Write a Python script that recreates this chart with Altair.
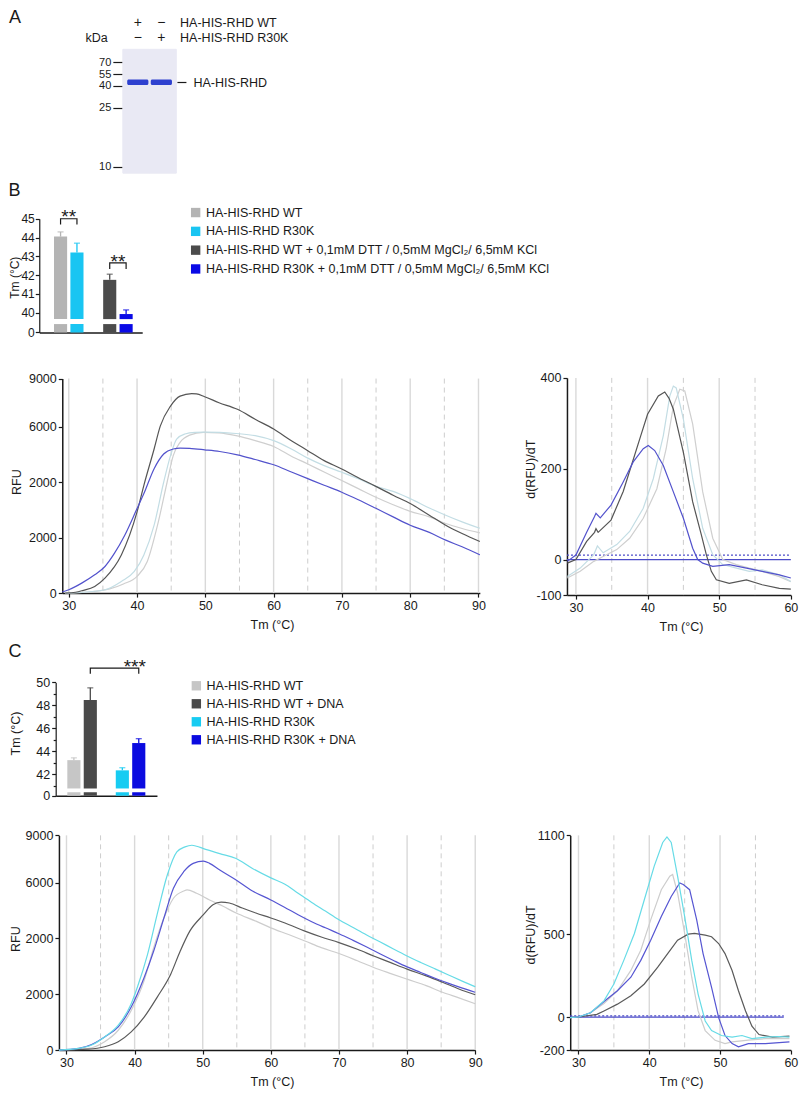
import altair as alt
import pandas as pd

W, H = 791, 1081
FONT = "Liberation Sans"
INK = "#1a1a1a"
SX = 791 / 804.5
SY = 1081 / 1091


def X(v):
    return (v - 1.5) * SX


def Y(v):
    return (v - 5) * SY


# ---------------- Panel A: gel ----------------
A_LANES = ["WT", "R30K"]
A_ROWS = ["HA-HIS-RHD WT", "HA-HIS-RHD R30K"]
A_SIGNS = [["+", "−"], ["−", "+"]]
A_KDA_TICKS = [70, 55, 40, 25, 10]
A_GEL_KDA = [8.3, 87]
A_BAND_KDA = [40.8, 47.8]
A_BAND_NAME = "HA-HIS-RHD"
A_BAND_MARK_KDA = 44.3

# ---------------- Panel B: bars ----------------
B_CONDS = [
    "HA-HIS-RHD WT",
    "HA-HIS-RHD R30K",
    "HA-HIS-RHD WT + 0,1mM DTT / 0,5mM MgCl₂/ 6,5mM KCl",
    "HA-HIS-RHD R30K + 0,1mM DTT / 0,5mM MgCl₂/ 6,5mM KCl",
]
B_GROUP = ["g1", "g1", "g2", "g2"]
B_SLOT = ["1", "2", "1", "2"]
B_TM = [44.05, 43.2, 41.75, 39.93]
B_SEM = [0.25, 0.5, 0.3, 0.22]
B_COLORS = ["#b4b4b4", "#19c5f2", "#4b4b4b", "#0a0ae6"]
B_BREAK = [1, 39.66]
B_YMAX = 45
B_TICKS = [0, 40, 41, 42, 43, 44, 45]
# (group, slot_from, group_to, slot_to, level, leg_end, text, text_y)
B_SIGS = [("g1", "1", "g1", "2", 45.0, 44.7, "**", 44.75),
          ("g2", "1", "g2", "2", 42.65, 42.33, "**", 42.37)]

# ---------------- Panel C: bars ----------------
C_CONDS = ["HA-HIS-RHD WT", "HA-HIS-RHD WT + DNA", "HA-HIS-RHD R30K", "HA-HIS-RHD R30K + DNA"]
C_GROUP = ["g1", "g1", "g2", "g2"]
C_SLOT = ["1", "2", "1", "2"]
C_TM = [43.23, 48.47, 42.34, 44.72]
C_SEM = [0.2, 1.06, 0.23, 0.38]
C_COLORS = ["#c6c6c6", "#4a4a4a", "#17ccf2", "#0b0be0"]
C_BREAK = [1, 40.76]
C_YMAX = 50
C_TICKS = [0, 42, 44, 46, 48, 50]
C_MINOR = [41, 43, 45, 47, 49]
C_SIGS = [("g1", "2", "g2", "2", 51.25, 50.76, "***", 50.84)]

# ---------------- RFU curves, panel B ----------------
RFU_TICKS = [0, 2000, 4000, 6000, 9000]
RFU_LABELS = ["0", "2000", "2000", "6000", "9000"]
T_TICKS_LONG = [30, 40, 50, 60, 70, 80, 90]
T_TICKS_SHORT = [30, 40, 50, 60]
GRID_SOLID_LONG = [30, 40, 50, 60, 70, 80, 90]
GRID_DASH_LONG = [35, 45, 55, 65, 75, 85]
GRID_SOLID_SHORT = [30, 40, 50]
GRID_DASH_SHORT = [35, 45, 55]

LB_WT_T = [29.5, 33, 36, 38, 40, 41.5, 43, 44.4, 45.3, 46.3, 47.7, 49.7, 52, 54.5, 57.3, 60, 62.6, 65, 67.4,
           69.9, 72.4, 74.9, 77.5, 80, 82.8, 85.2, 87.6, 90.2]
LB_WT_RFU = [0, 40, 150, 330, 600, 1140, 2450, 4000, 4960, 5440, 5700, 5800, 5780, 5680, 5500, 5290, 4940,
             4660, 4370, 4070, 3770, 3470, 3190, 2950, 2750, 2510, 2330, 2170]
LB_R30K_T = [29.5, 32, 35.3, 37.7, 39.6, 41, 42.5, 43.9, 44.9, 45.8, 47, 48.5, 49.9, 52.1, 54.5, 57.3, 60, 62.6,
             65, 67.4, 69.9, 72.4, 74.9, 77.5, 80, 82.8, 85.2, 87.6, 90.2]
LB_R30K_RFU = [0, 30, 120, 420, 780, 1375, 2450, 4000, 4960, 5560, 5740, 5800, 5810, 5800, 5760, 5680, 5500,
               5200, 4870, 4600, 4370, 4130, 3860, 3670, 3410, 3070, 2810, 2570, 2340]
LB_WTDTT_T = [29.5, 31, 32, 33.8, 35.3, 37.7, 40, 41, 42.5, 43.4, 44.9, 46.3, 48, 48.7, 49.9, 52, 54.7, 57.3,
              60, 62.6, 65, 67.4, 69.9, 72.2, 74.9, 77.5, 80, 82.8, 85.2, 87.6, 90.2]
LB_WTDTT_RFU = [0, 30, 90, 240, 540, 1375, 2930, 3890, 5200, 6040, 7290, 7910, 8070, 8050, 7870, 7500, 7090,
                6470, 5920, 5500, 5140, 4780, 4490, 4190, 3860, 3530, 3230, 2810, 2450, 2150, 1860]
LB_R30KDTT_T = [29.05, 30, 31.9, 33.8, 35.3, 36.7, 38.2, 40, 41, 42.5, 43.9, 45.3, 46.3, 47.7, 49.9, 52.1, 54.7,
                57.3, 60, 62.6, 65, 67.4, 69.9, 72.4, 74.9, 77.5, 80, 82.8, 85.2, 87.6, 90.2]
LB_R30KDTT_RFU = [40, 120, 360, 660, 960, 1440, 2090, 3050, 3590, 4490, 5020, 5200, 5230, 5220, 5170, 5110,
                  4990, 4820, 4630, 4370, 4130, 3890, 3650, 3370, 3070, 2750, 2450, 2190, 1910, 1670, 1380]

# ---------------- derivative curves, panel B ----------------
DB_TICKS = [-100, 0, 200, 400]
DB_LABELS = ["-100", "0", "200", "400"]
DB_REF = [0, 10]
DB_WT_T = [28.8, 30.6, 32.5, 33.8, 35.7, 37.5, 39.4, 41.3, 42.6, 43.6, 44.5, 45.2, 46.3, 47.7, 49.1, 50.5, 52.4,
           54.2, 56, 58.4, 60]
DB_WT_D = [-52, -33, -5, 7, 22, 47, 91, 156, 244, 338, 375, 371, 298, 149, 47, 0, -14, -24, -33, -48, -62]
DB_R30K_T = [28.8, 30.6, 32.5, 33, 33.8, 35.7, 37.5, 39.4, 40.8, 42.2, 43.1, 43.6, 44, 45, 46.3, 47.7, 49.1,
             50.5, 52.4, 54.2, 56, 58.4, 60]
DB_R30K_D = [-48, -24, 11, 30, 15, 33, 62, 113, 178, 273, 360, 382, 378, 309, 178, 69, 11, -14, -24, -33, -29,
             -43, -62]
DB_WTDTT_T = [28.8, 30, 31.5, 32.6, 32.8, 33.1, 34.9, 36.6, 37.5, 39, 40, 41.5, 42.4, 43, 43.6, 45, 46.3, 47.5,
              48.2, 48.9, 49.6, 51.4, 53.8, 56, 58.4, 60]
DB_WTDTT_D = [-10, 0, 40, 60, 68, 60, 87, 150, 195, 270, 320, 360, 369, 355, 331, 236, 127, 55, 11, -33, -57,
              -67, -57, -71, -81, -83]
DB_R30KDTT_T = [28.8, 30, 31.5, 32.6, 32.8, 33.4, 34.9, 36.6, 38, 39.4, 40.1, 41, 42.2, 43.6, 45, 46.3, 47,
                47.7, 49.1, 51.4, 53.8, 56, 58.4, 60]
DB_R30KDTT_D = [-5, 10, 60, 95, 102, 92, 120, 171, 215, 244, 251, 240, 207, 149, 91, 25, 0, -10, -19, -14,
                -24, -33, -43, -52]

# ---------------- RFU curves, panel C ----------------
LC_WT_T = [28.9, 33.2, 35.6, 37.6, 39.5, 41.4, 42.8, 44.3, 45.7, 47.2, 47.7, 49.1, 51, 53, 54.9, 57.8, 60, 62.6,
           65, 67.4, 70, 72.7, 75.1, 77.5, 80, 82.8, 85.2, 87.6, 90]
LC_WT_RFU = [0, 60, 300, 710, 1420, 2490, 3670, 4730, 5440, 5700, 5740, 5620, 5380, 5150, 4910, 4620, 4380,
             4140, 3910, 3670, 3460, 3200, 2960, 2750, 2540, 2310, 2070, 1870, 1660]
LC_WTDNA_T = [28.9, 33.2, 35.6, 37.6, 39.5, 41.4, 43.3, 45.3, 46.7, 48.1, 50.1, 51.5, 52.7, 53.9, 55.8, 57.8,
              60, 62.6, 65, 67.4, 70, 72.7, 75.1, 77.5, 80, 82.8, 85.2, 87.6, 90]
LC_WTDNA_RFU = [0, 35, 120, 300, 650, 1180, 1890, 2720, 3550, 4260, 4850, 5210, 5300, 5270, 5090, 4910, 4730,
                4500, 4260, 4050, 3850, 3610, 3370, 3140, 2900, 2660, 2430, 2190, 1980]
LC_R30K_T = [28.9, 31.8, 33.7, 35.6, 37.6, 39.5, 40.4, 41.9, 43.3, 44.8, 46.2, 47.4, 48.4, 49.1, 50.1, 52.5,
             54.9, 57.3, 60, 62, 64, 66, 68, 70, 72, 74, 76, 78, 80, 82, 84, 86, 88, 90]
LC_R30K_RFU = [0, 60, 180, 470, 890, 1660, 2250, 3430, 4850, 6480, 7950, 8270, 8370, 8310, 8160, 7840, 7530,
               6900, 6300, 5950, 5620, 5290, 4980, 4670, 4400, 4130, 3880, 3620, 3370, 3140, 2920, 2700, 2480,
               2270]
LC_R30KDNA_T = [28.9, 31.8, 33.7, 35.6, 37.6, 39.5, 41.4, 42.8, 44.3, 45.7, 47.2, 48.6, 50.1, 51, 52.5, 54.9,
                57.3, 60, 62, 64, 66, 68, 70, 72, 74, 76, 78, 80, 82, 84, 86, 88, 90]
LC_R30KDNA_RFU = [0, 60, 200, 470, 830, 1540, 2600, 3550, 4730, 5800, 6690, 7220, 7360, 7220, 6800, 6170,
                  5700, 5380, 5120, 4850, 4600, 4380, 4170, 3940, 3700, 3450, 3210, 2980, 2780, 2580, 2400,
                  2230, 2070]

# ---------------- derivative curves, panel C ----------------
DC_TICKS = [-200, 0, 500, 1100]
DC_LABELS = ["-200", "0", "500", "1100"]
DC_REF = [0, 7]
DC_WT_T = [28.8, 30, 31.7, 33.6, 35.5, 37.4, 38.8, 40.2, 41.7, 42.9, 43.3, 44, 45, 46, 46.9, 47.9, 49.3, 50.7,
           51.7, 54, 56.4, 59.8]
DC_WT_D = [-4, 0, 26, 82, 159, 282, 404, 588, 771, 853, 863, 751, 506, 241, 37, -82, -141, -161, -151, -140,
           -131, -131]
DC_WTDNA_T = [28.8, 30, 32.6, 33.6, 35.5, 37.4, 39.3, 41.2, 42.6, 44, 45.5, 46.4, 47.9, 48.8, 49.8, 50.7,
              51.7, 52.6, 53.6, 54.5, 55.5, 57.4, 59.8]
DC_WTDNA_D = [-4, 0, 16, 37, 78, 129, 200, 302, 384, 465, 502, 506, 496, 486, 445, 384, 282, 159, 37, -55,
              -106, -122, -116]
DC_R30K_T = [28.8, 30, 31.7, 33.6, 35, 36.4, 37.9, 39.3, 40.7, 41.9, 42.5, 43.1, 44, 45, 46, 46.9, 47.9, 48.8,
             50.2, 51.7, 53.1, 54.5, 56.4, 58.3, 59.8]
DC_R30K_D = [-4, 0, 26, 98, 200, 343, 506, 710, 914, 1057, 1090, 1057, 853, 608, 343, 139, -24, -82, -112,
             -122, -112, -131, -122, -118, -122]
DC_R30KDNA_T = [28.8, 30, 31.7, 34, 35.5, 37.4, 38.8, 40.2, 41.7, 43.1, 44.3, 44.8, 45.7, 46.7, 47.6, 48.8,
                49.8, 50.7, 51.7, 52.6, 54, 56.4, 59.8]
DC_R30KDNA_D = [-4, 0, 26, 108, 159, 241, 343, 465, 608, 730, 812, 802, 771, 588, 384, 180, -4, -112, -161,
                -180, -161, -161, -151]

B_LINE_NAMES = ["WT", "R30K", "WT + DTT", "R30K + DTT"]
B_LINE_COLORS = ["#cfcfcf", "#c3dde4", "#555555", "#5252cc"]
C_LINE_NAMES = ["WT", "WT + DNA", "R30K + DNA", "R30K"]
C_LINE_COLORS = ["#cdcdcd", "#5a5a5a", "#5555d2", "#66dbe6"]


def label_expr(values, labels):
    expr = "''"
    for v, l in reversed(list(zip(values, labels))):
        expr = f"datum.value == {v} ? '{l}' : ({expr})"
    return expr


def long_df(series):
    rows = []
    for name, ts, vs in series:
        for t, v in zip(ts, vs):
            rows.append({"series": name, "T": t, "V": v})
    return pd.DataFrame(rows)


layers = []

# ---------------- Panel letters ----------------
for letter, lx, ly in [("A", 8.5, 15.5), ("B", 8, 189.5), ("C", 8.5, 654.5)]:
    layers.append(
        alt.Chart(pd.DataFrame({"t": [letter]})).mark_text(
            font=FONT, fontSize=18, align="center", baseline="middle", color=INK
        ).encode(text="t:N", x=alt.value(X(lx)), y=alt.value(Y(ly)))
    )

# ---------------- Gel ----------------
kda_scale = alt.Scale(domain=[A_GEL_KDA[0], 10, 25, 40, 55, 70, A_GEL_KDA[1]],
                      range=[Y(171.7), Y(165), Y(105.7), Y(83.3), Y(71.7), Y(60), Y(46.7)],
                      nice=False, zero=False)
gel_bg_scale = alt.Scale(type="band", domain=A_LANES, range=[X(118.3), X(172.7)], paddingInner=0,
                         paddingOuter=0)
lane_scale = alt.Scale(type="band", domain=A_LANES, range=[X(118.3), X(172.7)], paddingInner=0.1,
                       paddingOuter=0.185)

layers.append(
    alt.Chart(pd.DataFrame({"lane": A_LANES})).mark_rect(color="#e9e9f4", stroke="#e9e9f4", strokeWidth=1).encode(
        x=alt.X("lane:N", scale=gel_bg_scale, axis=None),
        y=alt.YDatum(A_GEL_KDA[1], scale=kda_scale, axis=alt.Axis(
            orient="left", offset=-X(118.3), values=A_KDA_TICKS, tickSize=10, labelPadding=2,
            domain=False, title="kDa", titleAngle=0, titleX=X(91) - X(118.3), titleY=Y(34.3),
            titleAlign="center", titleBaseline="middle", labelFontSize=11)),
        y2=alt.Y2Datum(A_GEL_KDA[0]),
    )
)
layers.append(
    alt.Chart(pd.DataFrame({"lane": A_LANES, "lo": [A_BAND_KDA[0]] * 2, "hi": [A_BAND_KDA[1]] * 2}))
    .mark_bar(color="#2438cc", opacity=0.95, cornerRadius=1.5)
    .encode(
        x=alt.X("lane:N", scale=lane_scale, axis=None),
        y=alt.Y("hi:Q", scale=kda_scale, axis=alt.Axis(
            orient="right", offset=X(173.3) - W, values=[A_BAND_MARK_KDA], labelExpr=f"'{A_BAND_NAME}'",
            tickSize=9, labelPadding=7, domain=False, title=None, labelFontSize=12.5)),
        y2="lo:Q",
    )
)
sign_rows = []
for ri, row in enumerate(A_ROWS):
    for li, lane in enumerate(A_LANES):
        sign_rows.append({"row": row, "lane": lane, "sign": A_SIGNS[ri][li]})
layers.append(
    alt.Chart(pd.DataFrame(sign_rows)).mark_text(font=FONT, fontSize=14, color=INK, baseline="middle").encode(
        x=alt.X("lane:N", scale=lane_scale, axis=None),
        y=alt.Y("row:N", scale=alt.Scale(type="point", domain=A_ROWS, range=[Y(20), Y(35)], padding=0),
                axis=alt.Axis(orient="right", offset=X(176) - W, ticks=False, domain=False, labelPadding=0,
                              title=None, labelFontSize=12.5)),
        text="sign:N",
    )
)


# ---------------- Bar panels ----------------
def bar_panel(conds, groups, slots, tm, sem, colors, brk, ymax, yticks, yrange, xrange, pin, pout, align,
              axis_x, title_pos, legend_xy, row_pad, sigs, minor=None, fsize=12.5, lpad=2):
    ys = alt.Scale(domain=[0, brk[0], brk[1], ymax], range=[Y(v) for v in yrange], nice=False, zero=False)
    xs = alt.Scale(type="band", domain=["g1", "g2"], range=[X(xrange[0]), X(xrange[1])], paddingInner=pin,
                   paddingOuter=pout, align=align)
    xo = alt.Scale(type="band", domain=["1", "2"], paddingInner=0.2, paddingOuter=0)
    cs = alt.Scale(domain=conds, range=colors)
    seg = []
    for c, g, s, t in zip(conds, groups, slots, tm):
        seg.append({"cond": c, "group": g, "slot": s, "lo": 0, "hi": brk[0]})
        seg.append({"cond": c, "group": g, "slot": s, "lo": brk[1], "hi": t})
    out = []
    out.append(
        alt.Chart(pd.DataFrame(seg)).mark_bar().encode(
            x=alt.X("group:N", scale=xs, axis=alt.Axis(orient="bottom", offset=Y(yrange[0]) - H, labels=False,
                                                       ticks=False, domain=True, title=None, domainWidth=1.5)),
            xOffset=alt.XOffset("slot:N", scale=xo),
            y=alt.Y("lo:Q", scale=ys, axis=alt.Axis(
                orient="left", offset=-X(axis_x), values=yticks, title="Tm (°C)", titleAngle=270,
                titleX=X(title_pos[0]) - X(axis_x), titleY=Y(title_pos[1]), titleAlign="center",
                titleBaseline="middle", labelFontSize=fsize, titleFontSize=fsize, labelPadding=lpad)),
            y2="hi:Q",
            color=alt.Color("cond:N", scale=cs, legend=alt.Legend(
                orient="none", legendX=X(legend_xy[0]), legendY=Y(legend_xy[1]) - 6.5, title=None,
                symbolType="square", symbolSize=88, symbolStrokeWidth=0, symbolOpacity=1,
                labelFontSize=12.5, labelOffset=4, rowPadding=row_pad, labelLimit=900, labelColor=INK)),
        )
    )
    if minor:
        out.append(
            alt.Chart(pd.DataFrame({"m": minor})).mark_tick(opacity=0).encode(
                y=alt.Y("m:Q", scale=ys, axis=alt.Axis(orient="left", offset=-X(axis_x), values=minor,
                                                       labels=False, tickSize=2.5, domain=False, title=None)))
        )
    err = pd.DataFrame({"cond": conds, "group": groups, "slot": slots, "tm": tm,
                        "top": [t + e for t, e in zip(tm, sem)]})
    out.append(
        alt.Chart(err).mark_rule(strokeWidth=1.3).encode(
            x=alt.X("group:N", scale=xs, axis=None), xOffset=alt.XOffset("slot:N", scale=xo),
            y=alt.Y("tm:Q", scale=ys, axis=None), y2="top:Q",
            color=alt.Color("cond:N", scale=cs, legend=None))
    )
    out.append(
        alt.Chart(err).mark_tick(orient="horizontal", size=6, thickness=1.3).encode(
            x=alt.X("group:N", scale=xs, axis=None), xOffset=alt.XOffset("slot:N", scale=xo),
            y=alt.Y("top:Q", scale=ys, axis=None),
            color=alt.Color("cond:N", scale=cs, legend=None))
    )
    br = []
    for k, (g1, s1, g2, s2, level, leg, txt, ty) in enumerate(sigs):
        br += [{"id": k, "o": 0, "group": g1, "slot": s1, "v": leg},
               {"id": k, "o": 1, "group": g1, "slot": s1, "v": level},
               {"id": k, "o": 2, "group": g2, "slot": s2, "v": level},
               {"id": k, "o": 3, "group": g2, "slot": s2, "v": leg}]
    out.append(
        alt.Chart(pd.DataFrame(br)).mark_line(color=INK, strokeWidth=1.2).encode(
            x=alt.X("group:N", scale=xs, axis=None), xOffset=alt.XOffset("slot:N", scale=xo),
            y=alt.Y("v:Q", scale=ys, axis=None), detail="id:N", order="o:Q")
    )
    txt_rows = [{"g1": g1, "g2": g2, "s1": s1, "s2": s2, "t": txt, "ty": ty}
                for (g1, s1, g2, s2, level, leg, txt, ty) in sigs]
    for r in txt_rows:
        if r["g1"] == r["g2"]:
            out.append(
                alt.Chart(pd.DataFrame([r])).mark_text(font=FONT, fontSize=19, color=INK,
                                                       baseline="alphabetic").encode(
                    x=alt.X("g1:N", scale=xs, axis=None), y=alt.Y("ty:Q", scale=ys, axis=None), text="t:N")
            )
        else:
            out.append(
                alt.Chart(pd.DataFrame([r])).mark_text(font=FONT, fontSize=19, color=INK,
                                                       baseline="alphabetic", dx=-4).encode(
                    x=alt.X("g2:N", scale=xs, axis=None), xOffset=alt.XOffset("s1:N", scale=xo),
                    y=alt.Y("ty:Q", scale=ys, axis=None), text="t:N")
            )
    return out


layers += bar_panel(B_CONDS, B_GROUP, B_SLOT, B_TM, B_SEM, B_COLORS, B_BREAK, B_YMAX, B_TICKS,
                    yrange=[332.5, 324, 319, 217.7], xrange=[33.3, 138], pin=0.4, pout=0.247, align=0.607,
                    axis_x=33.3, title_pos=(8, 276.7), legend_xy=(186, 211.7), row_pad=5.8, sigs=B_SIGS,
                    fsize=12, lpad=1)
layers += bar_panel(C_CONDS, C_GROUP, C_SLOT, C_TM, C_SEM, C_COLORS, C_BREAK, C_YMAX, C_TICKS,
                    yrange=[800, 796.5, 792.7, 685.7], xrange=[50, 153], pin=0.39, pout=0.24, align=0.5,
                    axis_x=50, title_pos=(9, 736.7), legend_xy=(186.7, 689.3), row_pad=5.0, sigs=C_SIGS,
                    minor=C_MINOR)


# ---------------- Curve panels ----------------
def curve_panel(series, names, colors, xdom, xrange, ydom, yrange, xticks, yticks, ylabels, gsolid, gdash,
                ytitle, ytitle_pos, xtitle_x, interp, refs=None, xmax=None):
    xs = alt.Scale(domain=xdom, range=[X(xrange[0]), X(xrange[1])], nice=False, zero=False)
    ys = alt.Scale(domain=ydom, range=[Y(v) for v in yrange], nice=False, zero=False)
    out = []
    out.append(
        alt.Chart(pd.DataFrame({"g": gsolid})).mark_rule(color="#d9d9d9", strokeWidth=1.4).encode(
            x=alt.X("g:Q", scale=xs, axis=None),
            y=alt.YDatum(ydom[-1], scale=ys, axis=None), y2=alt.Y2Datum(ydom[0]))
    )
    out.append(
        alt.Chart(pd.DataFrame({"g": gdash})).mark_rule(color="#cdcdcd", strokeWidth=1,
                                                        strokeDash=[5, 4]).encode(
            x=alt.X("g:Q", scale=xs, axis=None),
            y=alt.YDatum(ydom[-1], scale=ys, axis=None), y2=alt.Y2Datum(ydom[0]))
    )
    if refs is not None:
        for lvl, dash in zip(refs, [None, [2, 2]]):
            kw = {"strokeDash": dash} if dash else {}
            out.append(
                alt.Chart(pd.DataFrame({"lvl": [lvl]})).mark_rule(color="#4b4bc8", strokeWidth=1.3, **kw).encode(
                    y=alt.Y("lvl:Q", scale=ys, axis=None),
                    x=alt.XDatum(xdom[0], scale=xs, axis=None), x2=alt.X2Datum(xmax))
            )
    df = long_df(series)
    out.append(
        alt.Chart(df).mark_line(strokeWidth=1.2, interpolate=interp).encode(
            x=alt.X("T:Q", scale=xs, axis=alt.Axis(
                orient="bottom", offset=Y(yrange[0]) - H, values=xticks, format="d", title="Tm (°C)",
                titleX=X(xtitle_x), titleY=31.0, titleAlign="center", titleBaseline="middle",
                labelPadding=2.5, domainWidth=1.5)),
            y=alt.Y("V:Q", scale=ys, axis=alt.Axis(
                orient="left", offset=-X(xrange[0]), values=yticks, labelExpr=label_expr(yticks, ylabels),
                title=ytitle, titleAngle=270, titleX=X(ytitle_pos[0]) - X(xrange[0]), titleY=Y(ytitle_pos[1]),
                titleAlign="center", titleBaseline="middle", domainWidth=1.5)),
            color=alt.Color("series:N", scale=alt.Scale(domain=names, range=colors), legend=None),
        )
    )
    return out


layers += curve_panel(
    [("WT", LB_WT_T, LB_WT_RFU), ("R30K", LB_R30K_T, LB_R30K_RFU), ("WT + DTT", LB_WTDTT_T, LB_WTDTT_RFU),
     ("R30K + DTT", LB_R30KDTT_T, LB_R30KDTT_RFU)],
    B_LINE_NAMES, B_LINE_COLORS, xdom=[29.05, 90.2], xrange=[56.7, 481.4], ydom=[0, 6000, 9000],
    yrange=[595.5, 427.7, 379], xticks=T_TICKS_LONG, yticks=RFU_TICKS, ylabels=RFU_LABELS,
    gsolid=GRID_SOLID_LONG, gdash=GRID_DASH_LONG, ytitle="RFU", ytitle_pos=(10, 483), xtitle_x=270,
    interp="monotone")
layers += curve_panel(
    [("WT", DB_WT_T, DB_WT_D), ("R30K", DB_R30K_T, DB_R30K_D), ("WT + DTT", DB_WTDTT_T, DB_WTDTT_D),
     ("R30K + DTT", DB_R30KDTT_T, DB_R30KDTT_D)],
    B_LINE_NAMES, B_LINE_COLORS, xdom=[28.75, 60], xrange=[570, 797.7], ydom=[-100, 0, 400],
    yrange=[597.5, 561.7, 378.3], xticks=T_TICKS_SHORT, yticks=DB_TICKS, ylabels=DB_LABELS,
    gsolid=GRID_SOLID_SHORT, gdash=GRID_DASH_SHORT, ytitle="d(RFU)/dT", ytitle_pos=(533, 470), xtitle_x=686,
    interp="linear", refs=DB_REF, xmax=60)
layers += curve_panel(
    [("WT", LC_WT_T, LC_WT_RFU), ("WT + DNA", LC_WTDNA_T, LC_WTDNA_RFU),
     ("R30K + DNA", LC_R30KDNA_T, LC_R30KDNA_RFU), ("R30K", LC_R30K_T, LC_R30K_RFU)],
    C_LINE_NAMES, C_LINE_COLORS, xdom=[28.89, 90], xrange=[53.3, 476.7], ydom=[0, 6000, 9000],
    yrange=[1056.7, 887.7, 840], xticks=T_TICKS_LONG, yticks=RFU_TICKS, ylabels=RFU_LABELS,
    gsolid=GRID_SOLID_LONG, gdash=GRID_DASH_LONG, ytitle="RFU", ytitle_pos=(9, 944.3), xtitle_x=270,
    interp="monotone")
layers += curve_panel(
    [("WT", DC_WT_T, DC_WT_D), ("WT + DNA", DC_WTDNA_T, DC_WTDNA_D),
     ("R30K + DNA", DC_R30KDNA_T, DC_R30KDNA_D), ("R30K", DC_R30K_T, DC_R30K_D)],
    C_LINE_NAMES, C_LINE_COLORS, xdom=[28.83, 60], xrange=[573.3, 797.7], ydom=[-200, 1100],
    yrange=[1056.7, 840], xticks=T_TICKS_SHORT, yticks=DC_TICKS, ylabels=DC_LABELS,
    gsolid=GRID_SOLID_SHORT, gdash=GRID_DASH_SHORT, ytitle="d(RFU)/dT", ytitle_pos=(533, 940), xtitle_x=686,
    interp="linear", refs=DC_REF, xmax=59)

chart = (
    alt.layer(*layers)
    .resolve_scale(x="independent", y="independent", color="independent", xOffset="independent")
    .properties(width=W, height=H, padding=0, autosize=alt.AutoSizeParams(type="none"), background="white")
    .configure(font=FONT)
    .configure_view(stroke=None, strokeWidth=0)
    .configure_axis(grid=False, labelFont=FONT, titleFont=FONT, labelFontSize=12.5, titleFontSize=12.5,
                    titleFontWeight="normal", labelColor=INK, titleColor=INK, tickColor=INK, domainColor=INK,
                    tickSize=4, labelPadding=2, labelFlush=False, labelOverlap=False, domainWidth=1.2,
                    tickWidth=1.2)
    .configure_legend(labelFont=FONT)
)

chart.save("out.html", embed_options={"renderer": "svg", "actions": False})
